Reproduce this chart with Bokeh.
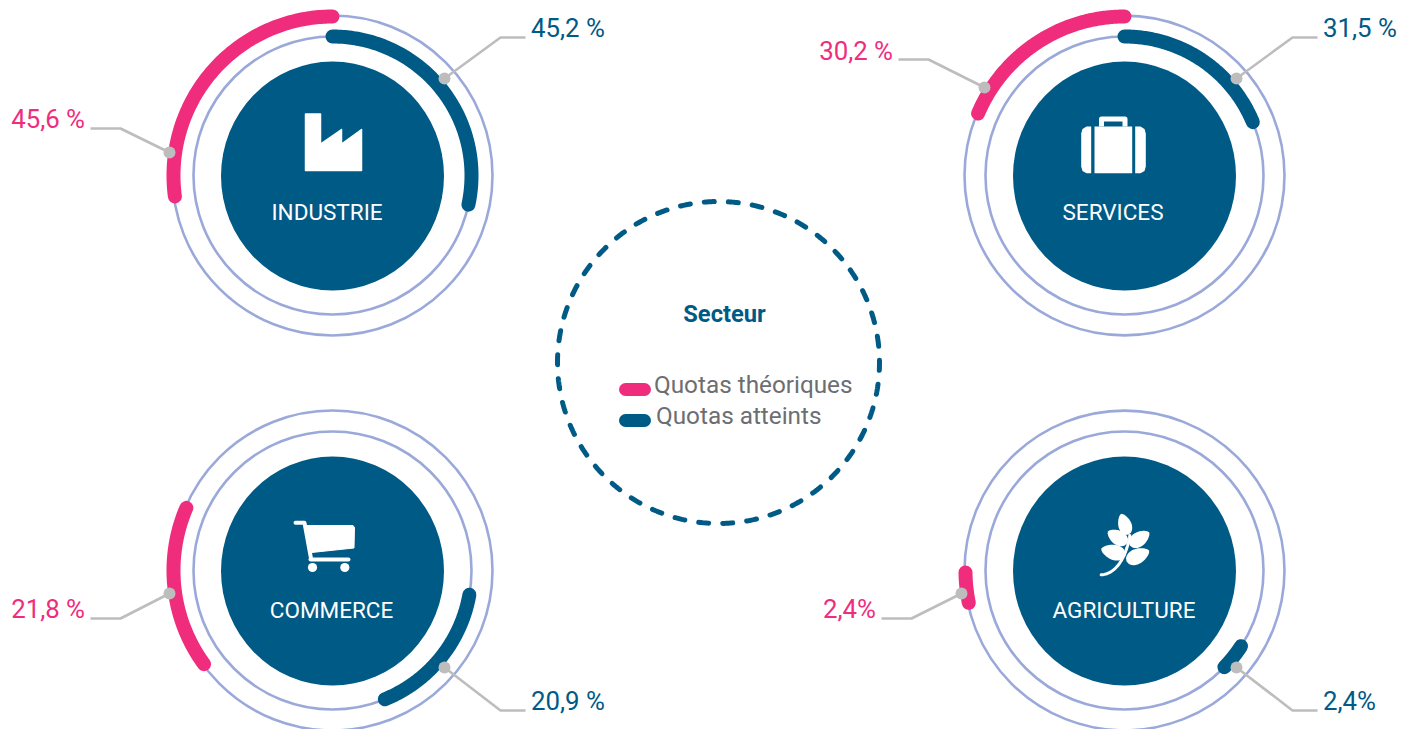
import numpy as np
from bokeh.plotting import figure
from bokeh.models import Range1d
from bokeh.core.properties import value
from bokeh.embed import file_html
from bokeh.resources import INLINE

# ---- data
sectors = ["INDUSTRIE", "SERVICES", "COMMERCE", "AGRICULTURE"]
quotas_theoriques = [45.6, 30.2, 21.8, 2.4]
quotas_atteints = [45.2, 31.5, 20.9, 2.4]
labels_theoriques = ["45,6 %", "30,2 %", "21,8 %", "2,4%"]
labels_atteints = ["45,2 %", "31,5 %", "20,9 %", "2,4%"]
legend_title = "Secteur"
legend_items = ["Quotas théoriques", "Quotas atteints"]

# ---- layout and style (page pixels)
PINK, NAVY, RING, GREY, TXT = "#f02d7d", "#005a86", "#9aa9da", "#bdbdbd", "#6d6e71"
FONT = value("Roboto")
centers = [(332, 175), (1124, 175), (332, 570), (1124, 570)]
pink_start = [0, 0, -66.8, -90.7]
blue_start = [0, 0, 100, 123]
pink_scale = [2.14, 2.22, 2.72, 4.6]
blue_scale = [2.26, 2.14, 2.77, 4.6]
name_x = [326.5, 1112.5, 331, 1123.5]
name_y = [211, 211, 609, 609]
pink_leader = [[(169,152),(120,128),(90,128)], [(984,87),(928,59),(898,59)],
               [(169,593),(120,618),(90,618)], [(961,593),(911,618),(881,618)]]
blue_leader = [[(444,78),(500,37),(525,37)], [(1236,78),(1292,37),(1317,37)],
               [(444,667),(500,710),(525,710)], [(1236,667),(1292,710),(1317,710)]]
pink_label_pos = [(84.5,118.5,"right"), (892.5,50.5,"right"), (84.5,608.5,"right"), (875.5,608.5,"right")]
blue_label_pos = [(530.5,27.5,"left"), (1322.5,27.5,"left"), (530.5,700.5,"left"), (1322.5,700.5,"left")]

p = figure(width=1408, height=729, x_range=Range1d(0, 1408), y_range=Range1d(729, 0),
           x_axis_type=None, y_axis_type=None, toolbar_location=None, output_backend="svg",
           min_border=0, outline_line_color=None, background_fill_color="white")
p.grid.visible = False


def polar(cx, cy, r, a):
    a = np.radians(a)
    return cx + r * np.sin(a), cy - r * np.cos(a)


def arc(cx, cy, r, start, sweep, color):
    x, y = polar(cx, cy, r, np.linspace(start, start + sweep, 120))
    p.line(x, y, line_color=color, line_width=14, line_cap="round", line_join="round")


for i, (cx, cy) in enumerate(centers):
    for r, in [(160,), (139,)]:
        p.circle([cx], [cy], radius=r, fill_color=None, line_color=RING, line_width=2.6)
    p.ellipse([cx], [cy + 0.5], width=223, height=229, fill_color=NAVY, line_color=None)
    arc(cx, cy, 159, pink_start[i], -quotas_theoriques[i] * pink_scale[i], PINK)
    arc(cx, cy, 139, blue_start[i], quotas_atteints[i] * blue_scale[i], NAVY)
    for pts in (pink_leader[i], blue_leader[i]):
        xs, ys = zip(*pts)
        p.line(xs, ys, line_color=GREY, line_width=2.6)
        p.circle([xs[0]], [ys[0]], radius=6, fill_color=GREY, line_color=None)
    p.text([name_x[i]], [name_y[i]], text=[sectors[i]], text_font=FONT, text_font_size="22.5px",
           text_color="white", text_align="center", text_baseline="middle")
    for lab, (lx, ly, al), c in ((labels_theoriques[i], pink_label_pos[i], PINK),
                                 (labels_atteints[i], blue_label_pos[i], NAVY)):
        p.text([lx], [ly], text=[lab], text_font=FONT, text_font_size="25.8px", text_color=c,
               text_align=al, text_baseline="middle")

# ---- icons
W = "white"
# factory
p.patch([305,320,320,341,341,361,361,305], [113.5,113.5,143.5,129,143.5,129,170,170],
        fill_color=W, line_color=W, line_width=1.5, line_join="round")
# briefcase
p.patch([1094,1131.7,1131.7,1094], [126,126,172.7,172.7], fill_color=W, line_color=None)
p.patch([1086,1090.7,1090.7,1086,1082,1080.7,1080.7,1082], [126,126,172.7,172.7,170.5,166,133,128.5],
        fill_color=W, line_color=None)
p.patch([1134.7,1140,1144,1145.3,1145.3,1144,1140,1134.7], [126,126,128.5,133,166,170.5,172.7,172.7],
        fill_color=W, line_color=None)
p.line([1101,1101,1124.5,1124.5], [126,118.5,118.5,126], line_color=W, line_width=5, line_join="round")
# cart
p.line([295,304,310.5], [522.3,522.3,558], line_color=W, line_width=4, line_cap="round", line_join="round")
p.patch([305,352.5,354,353.5,311], [525,525,527,547.5,552], fill_color=W, line_color=W, line_width=1, line_join="round")
p.line([310,348], [559,559], line_color=W, line_width=4, line_cap="round")
p.circle([312,344.3], [567,567], radius=4.6, fill_color=W, line_color=None)


# leaves
def leaf(bx, by, tx, ty, hw):
    t = np.linspace(0, 1, 24)
    w = hw * np.sin(np.pi * t ** 0.8) ** 0.6
    dx, dy = tx - bx, ty - by
    n = np.hypot(dx, dy)
    ux, uy = -dy / n, dx / n
    xa = bx + dx * t + ux * w
    ya = by + dy * t + uy * w
    xb = bx + dx * t - ux * w
    yb = by + dy * t - uy * w
    p.patch(np.r_[xa, xb[::-1]], np.r_[ya, yb[::-1]], fill_color=W, line_color=None)


ox, oy = 1080, 505
for b, tp, hw in [((143,88),(122,25),20), ((140,113),(82,78),22), ((148,120),(206,80),22),
                  ((135,150),(62,130),23), ((138,168),(206,135),23)]:
    leaf(ox + b[0] / 3, oy + b[1] / 3, ox + tp[0] / 3, oy + tp[1] / 3, hw / 3)
s = np.linspace(0, 1, 30)
p.line(ox + ((1-s)**3*62 + 3*(1-s)**2*s*110 + 3*(1-s)*s**2*138 + s**3*148) / 3,
       oy + ((1-s)**3*208 + 3*(1-s)**2*s*205 + 3*(1-s)*s**2*150 + s**3*90) / 3,
       line_color=W, line_width=3, line_cap="round")

# ---- centre legend: 42 separate dashes of the ring
xs_d, ys_d = [], []
for k in range(42):
    a = np.radians(1 + k * 360 / 42) + np.linspace(-5, 5, 8) / 161
    xs_d.append(718 + 161 * np.cos(a))
    ys_d.append(362 + 161 * np.sin(a))
p.multi_line(xs_d, ys_d, line_color=NAVY, line_width=5, line_cap="round")
p.text([724], [313], text=[legend_title], text_font=FONT, text_font_size="23.7px", text_font_style="bold",
       text_color=NAVY, text_align="center", text_baseline="middle")
for name, sx, tx, y, ty, c in ((legend_items[0], (625, 644), 653.5, 389, 384, PINK),
                               (legend_items[1], (625, 644), 655.5, 420, 415, NAVY)):
    p.line(sx, [y, y], line_color=c, line_width=13, line_cap="round")
    p.text([tx], [ty], text=[name], text_font=FONT, text_font_size="24.3px", text_color=TXT,
           text_align="left", text_baseline="middle")

open("out.html", "w").write(file_html(p, INLINE))
